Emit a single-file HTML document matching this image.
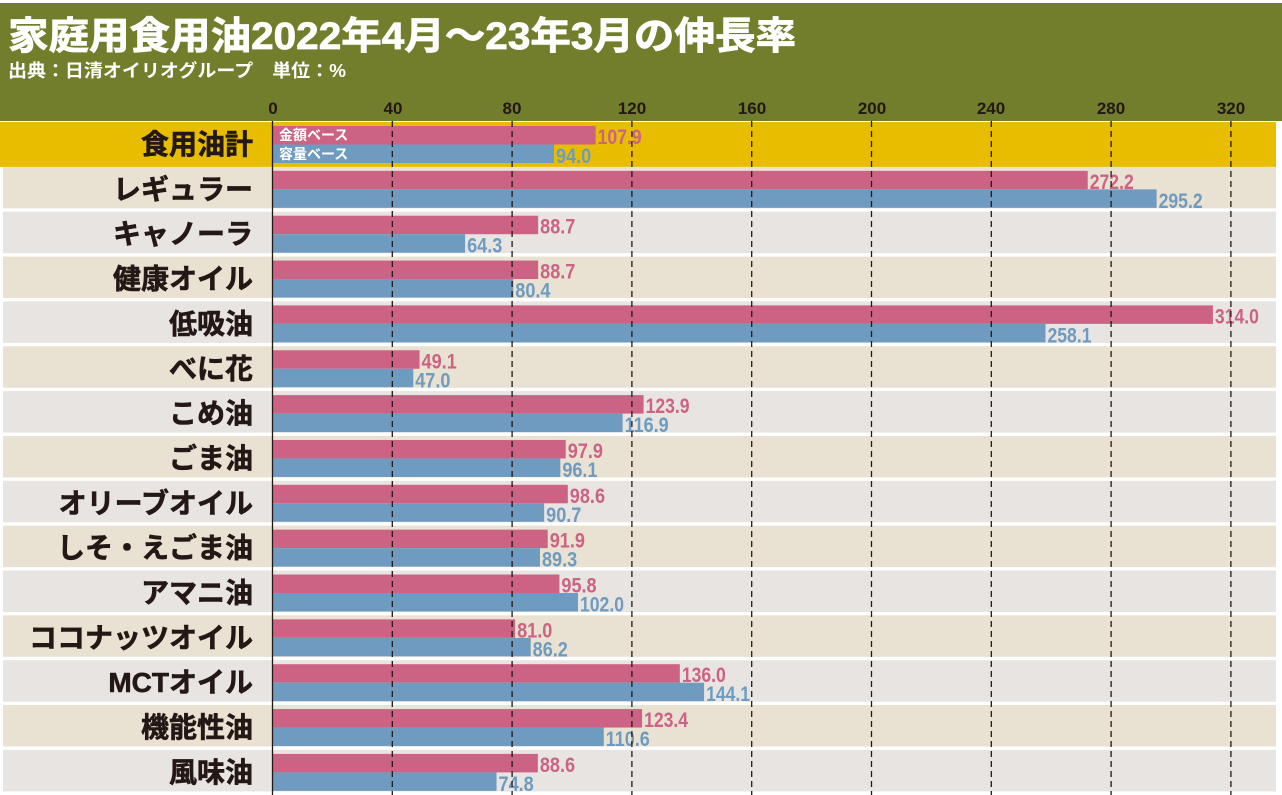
<!DOCTYPE html>
<html><head><meta charset="utf-8"><style>
body{margin:0;background:#fff;width:1282px;height:795px;overflow:hidden}
svg{display:block}
text{font-family:"Liberation Sans","Noto Sans CJK JP",sans-serif;font-weight:bold}
.v{font-family:"Liberation Sans Narrow","Liberation Sans",sans-serif;font-size:21px}
.c{font-size:28px;fill:#231815}
</style></head><body>
<svg width="1282" height="795" viewBox="0 0 1282 795" xmlns="http://www.w3.org/2000/svg">
<rect x="0" y="3" width="1282" height="118" fill="#727e2b"/>
<text x="8" y="49" font-size="38" fill="#fff" textLength="788" lengthAdjust="spacingAndGlyphs" stroke="#fff" stroke-width="0.8">家庭用食用油2022年4月～23年3月の伸長率</text>
<text x="8" y="77" font-size="18" fill="#fff" textLength="338" lengthAdjust="spacingAndGlyphs">出典：日清オイリオグループ　単位：%</text>
<g font-size="17" fill="#231815" text-anchor="middle" class="v">
<text x="273" y="114" font-size="17">0</text><text x="393" y="114" font-size="17">40</text><text x="512" y="114" font-size="17">80</text><text x="632" y="114" font-size="17">120</text><text x="752" y="114" font-size="17">160</text><text x="872" y="114" font-size="17">200</text><text x="991" y="114" font-size="17">240</text><text x="1111" y="114" font-size="17">280</text><text x="1231" y="114" font-size="17">320</text>
</g>
<g id="rows"></g>
</svg>
<script>
const data=[["食用油計",107.9,94.0],["レギュラー",272.2,295.2],["キャノーラ",88.7,64.3],["健康オイル",88.7,80.4],["低吸油",314.0,258.1],["べに花",49.1,47.0],["こめ油",123.9,116.9],["ごま油",97.9,96.1],["オリーブオイル",98.6,90.7],["しそ・えごま油",91.9,89.3],["アマニ油",95.8,102.0],["ココナッツオイル",81.0,86.2],["MCTオイル",136.0,144.1],["機能性油",123.4,110.6],["風味油",88.6,74.8]];
const g=document.getElementById('rows');const X0=272.5,S=2.995;let h='';
function val(x,y,s,c){const L=s.length*8.8;return `<text class="v" x="${x}" y="${y}" fill="${c}" textLength="${L}" lengthAdjust="spacingAndGlyphs">${s}</text>`;}
data.forEach((d,i)=>{const y=122+i*44.85;const bg=i==0?'#e8bd00':(i%2?'#e9e2d2':'#e8e4e1');
h+=`<rect x="${i==0?0:3}" y="${y}" width="${i==0?1276:1273}" height="${i==0?45:41.5}" fill="${bg}"/>`;
h+=`<text class="c" x="253" y="${y+32}" text-anchor="end" stroke="#231815" stroke-width="0.6">${d[0]}</text>`;
const yp=y+4;h+=`<rect x="${X0}" y="${yp}" width="${d[1]*S}" height="18.5" fill="#cc6384"/>`;
h+=`<rect x="${X0}" y="${yp+18.5}" width="${d[2]*S}" height="18.5" fill="#6e9bbf"/>`;
h+=val(X0+d[1]*S+2,yp+18,d[1].toFixed(1),'#cc6384');
h+=val(X0+d[2]*S+2,yp+37,d[2].toFixed(1),'#6e9bbf');
if(i==0){h+=`<text x="279" y="${yp+14}" font-size="14" fill="#fff">金額ベース</text><text x="279" y="${yp+33}" font-size="14" fill="#fff">容量ベース</text>`;}
});
for(let k=0;k<=8;k++){const x=X0+k*40*S;h+=`<line x1="${x}" y1="121" x2="${x}" y2="795" stroke="#231815" stroke-width="1.3" stroke-dasharray="${k==0?'none':'6,4'}"/>`;}
g.innerHTML=h;
</script>
</body></html>
